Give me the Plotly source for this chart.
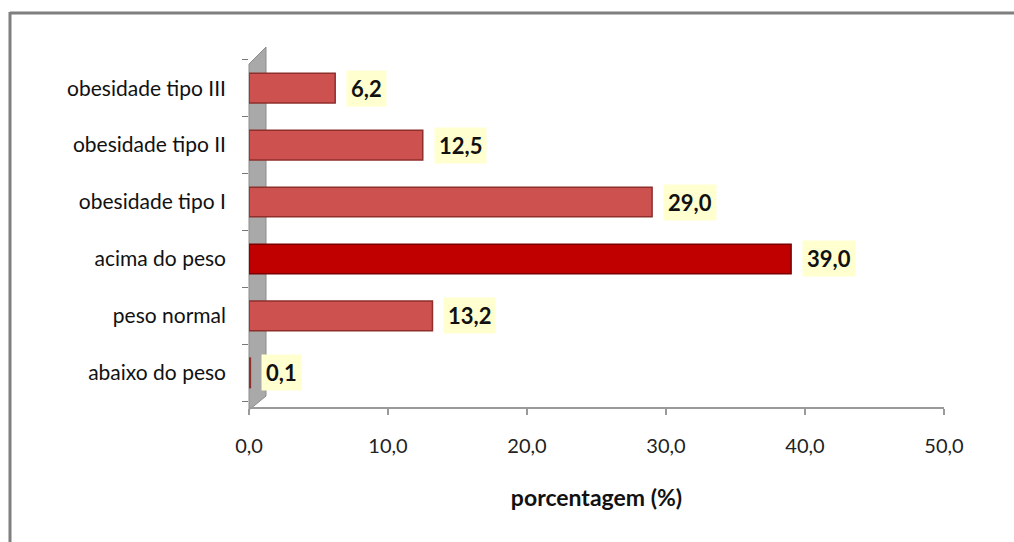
import plotly.graph_objects as go

categories = ["abaixo do peso", "peso normal", "acima do peso",
              "obesidade tipo I", "obesidade tipo II", "obesidade tipo III"]
values = [0.1, 13.2, 39.0, 29.0, 12.5, 6.2]
x_ticks = [0, 10, 20, 30, 40, 50]
x_title = "porcentagem (%)"
highlight = "acima do peso"

W, H = 1014, 542
L, R, T, B = 249, 70, 58, 135
PW, PH = W - L - R, H - T - B

def px(x):
    return (x - L) / PW

def py(y):
    return (H - B - y) / PH

colors = ["#C00000" if c == highlight else "#CD514E" for c in categories]
lines = ["#7A0000" if c == highlight else "#8E2F2C" for c in categories]

fig = go.Figure()
fig.add_trace(go.Bar(
    y=categories, x=values, orientation="h",
    width=0.52,
    marker=dict(color=colors, line=dict(color=lines, width=1.5)),
    hoverinfo="skip",
))

annotations = []
for c, v in zip(categories, values):
    annotations.append(dict(
        x=v, y=c, xref="x", yref="y",
        text=f"{v:.1f}".replace(".", ","),
        showarrow=False, xanchor="left", yanchor="middle",
        xshift=11,
        bgcolor="#FFFFD0", borderpad=4,
        font=dict(family="Lato", size=22, color="#111111", weight="bold"),
    ))

shapes = [
    # 3D side wall
    dict(type="path", xref="paper", yref="paper", layer="below",
         path=f"M {px(249)} {py(410)} L {px(249)} {py(64)} L {px(266)} {py(47)} L {px(266)} {py(396)} Z",
         fillcolor="#A9A9A9", line=dict(color="#8C8C8C", width=1)),
    # outer frame (top and left)
    dict(type="line", xref="paper", yref="paper",
         x0=px(10), x1=px(1014), y0=py(13), y1=py(13),
         line=dict(color="#7F7F7F", width=3)),
    dict(type="line", xref="paper", yref="paper",
         x0=px(10), x1=px(10), y0=py(12), y1=py(542),
         line=dict(color="#7F7F7F", width=3)),
]

fig.update_layout(
    width=W, height=H,
    margin=dict(l=L, r=R, t=T, b=B),
    paper_bgcolor="white", plot_bgcolor="white",
    separators=",.",
    showlegend=False,
    annotations=annotations,
    shapes=shapes,
    font=dict(family="Lato", color="#222222"),
    xaxis=dict(
        range=[0, 50], tickvals=x_ticks, tickformat=".1f",
        showgrid=False, zeroline=False,
        showline=True, linecolor="#9A9A9A", linewidth=2,
        ticks="outside", ticklen=6, tickcolor="#9A9A9A", tickwidth=1.5,
        ticklabelstandoff=14,
        tickfont=dict(size=20, color="#222222"),
        title=dict(text=x_title, font=dict(size=23, color="#111111", weight="bold"), standoff=34),
    ),
    yaxis=dict(
        type="category", categoryorder="array", categoryarray=categories,
        range=[-0.6, 5.53],
        showgrid=False, zeroline=False, showline=False,
        ticks="outside", tickson="boundaries", ticklen=6, tickcolor="#777777",
        ticklabelstandoff=22,
        tickfont=dict(size=21, color="#111111"),
    ),
)

fig.write_html("out.html", config={"displayModeBar": False},
               post_script="document.body.style.margin='0';document.body.style.overflow='hidden';")
